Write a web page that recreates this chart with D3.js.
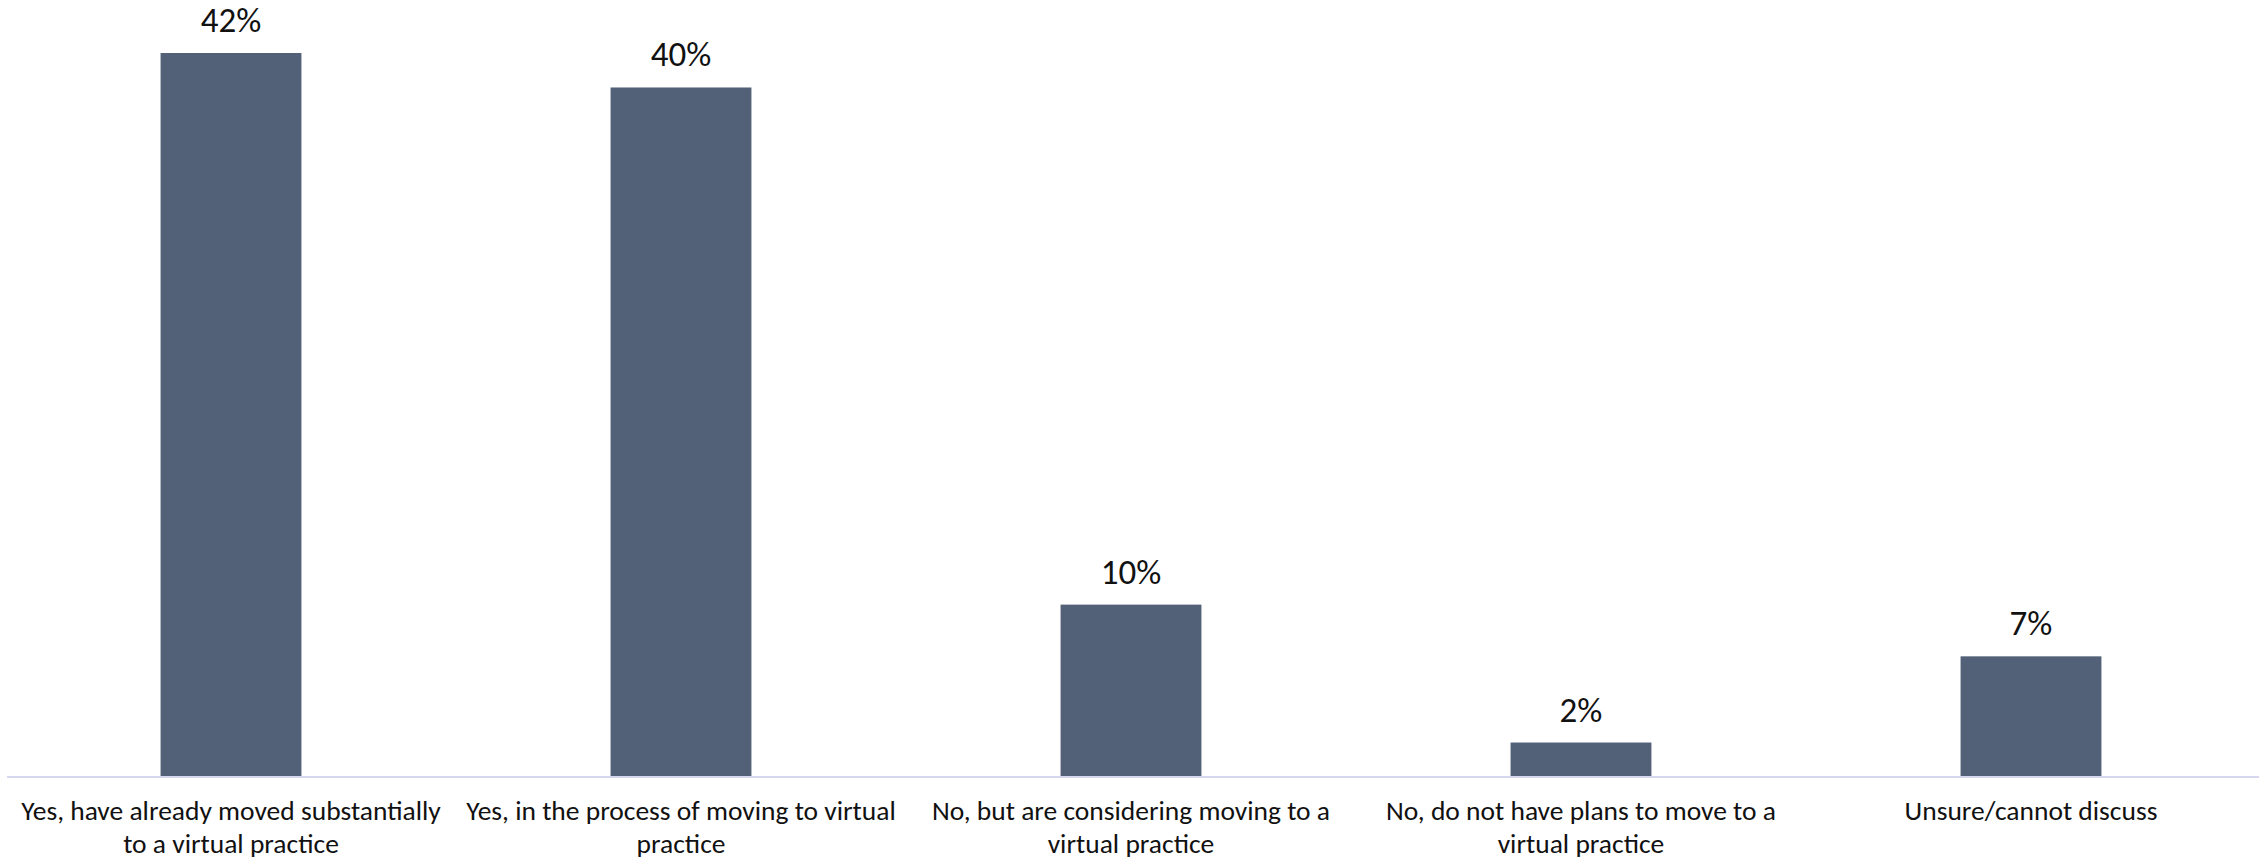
<!DOCTYPE html>
<html>
<head>
<meta charset="utf-8">
<script src="https://cdn.jsdelivr.net/npm/d3@7"></script>
<style>
  html, body { margin: 0; padding: 0; background: #fff; }
  svg { display: block; }
</style>
</head>
<body>
<svg id="chart" width="2259" height="860"></svg>
<script>
const categories = [
  "Yes, have already moved substantially\nto a virtual practice",
  "Yes, in the process of moving to virtual\npractice",
  "No, but are considering moving to a\nvirtual practice",
  "No, do not have plans to move to a\nvirtual practice",
  "Unsure/cannot discuss"
];
const values = [42, 40, 10, 2, 7];
const valueLabels = ["42%", "40%", "10%", "2%", "7%"];

const W = 2259, H = 860;
const baseline = 777;
const svg = d3.select("#chart");

const x = d3.scaleBand()
  .domain(categories)
  .range([6, 2256])
  .paddingInner(0.687)
  .paddingOuter(0.3435);

const y = d3.scaleLinear()
  .domain([0, 42])
  .range([baseline, 53]);

const font = "Carlito, Lato, 'Open Sans', sans-serif";

// bars
svg.append("g").selectAll("rect")
  .data(values)
  .join("rect")
  .attr("x", (d, i) => x(categories[i]))
  .attr("y", d => y(d))
  .attr("width", x.bandwidth())
  .attr("height", d => y(0) - y(d))
  .attr("fill", "#536178");

// axis
const xAxis = d3.axisBottom(x).tickSize(0).tickFormat("");
const axisG = svg.append("g")
  .attr("transform", `translate(0,${baseline})`)
  .call(xAxis);
axisG.select(".domain").attr("stroke", "#d6d9ee").attr("stroke-width", 2)
  .attr("d", `M7,0H${W}`);

// category labels
const catG = svg.append("g");
categories.forEach(c => {
  const lines = c.split("\n");
  const t = catG.append("text")
    .attr("x", x(c) + x.bandwidth() / 2)
    .attr("y", 820)
    .attr("text-anchor", "middle")
    .attr("font-family", font)
    .attr("font-weight", 300)
    .attr("font-size", 27.5)
    .attr("fill", "#111");
  lines.forEach((ln, j) => {
    t.append("tspan")
      .attr("x", x(c) + x.bandwidth() / 2)
      .attr("dy", j === 0 ? 0 : 33)
      .text(ln);
  });
});

// value labels
svg.append("g").selectAll("text")
  .data(values)
  .join("text")
  .attr("x", (d, i) => x(categories[i]) + x.bandwidth() / 2)
  .attr("y", d => y(d) - 21)
  .attr("text-anchor", "middle")
  .attr("font-family", font)
  .attr("font-weight", 300)
  .attr("font-size", 35)
  .attr("fill", "#111")
  .text((d, i) => valueLabels[i]);
</script>
</body>
</html>
